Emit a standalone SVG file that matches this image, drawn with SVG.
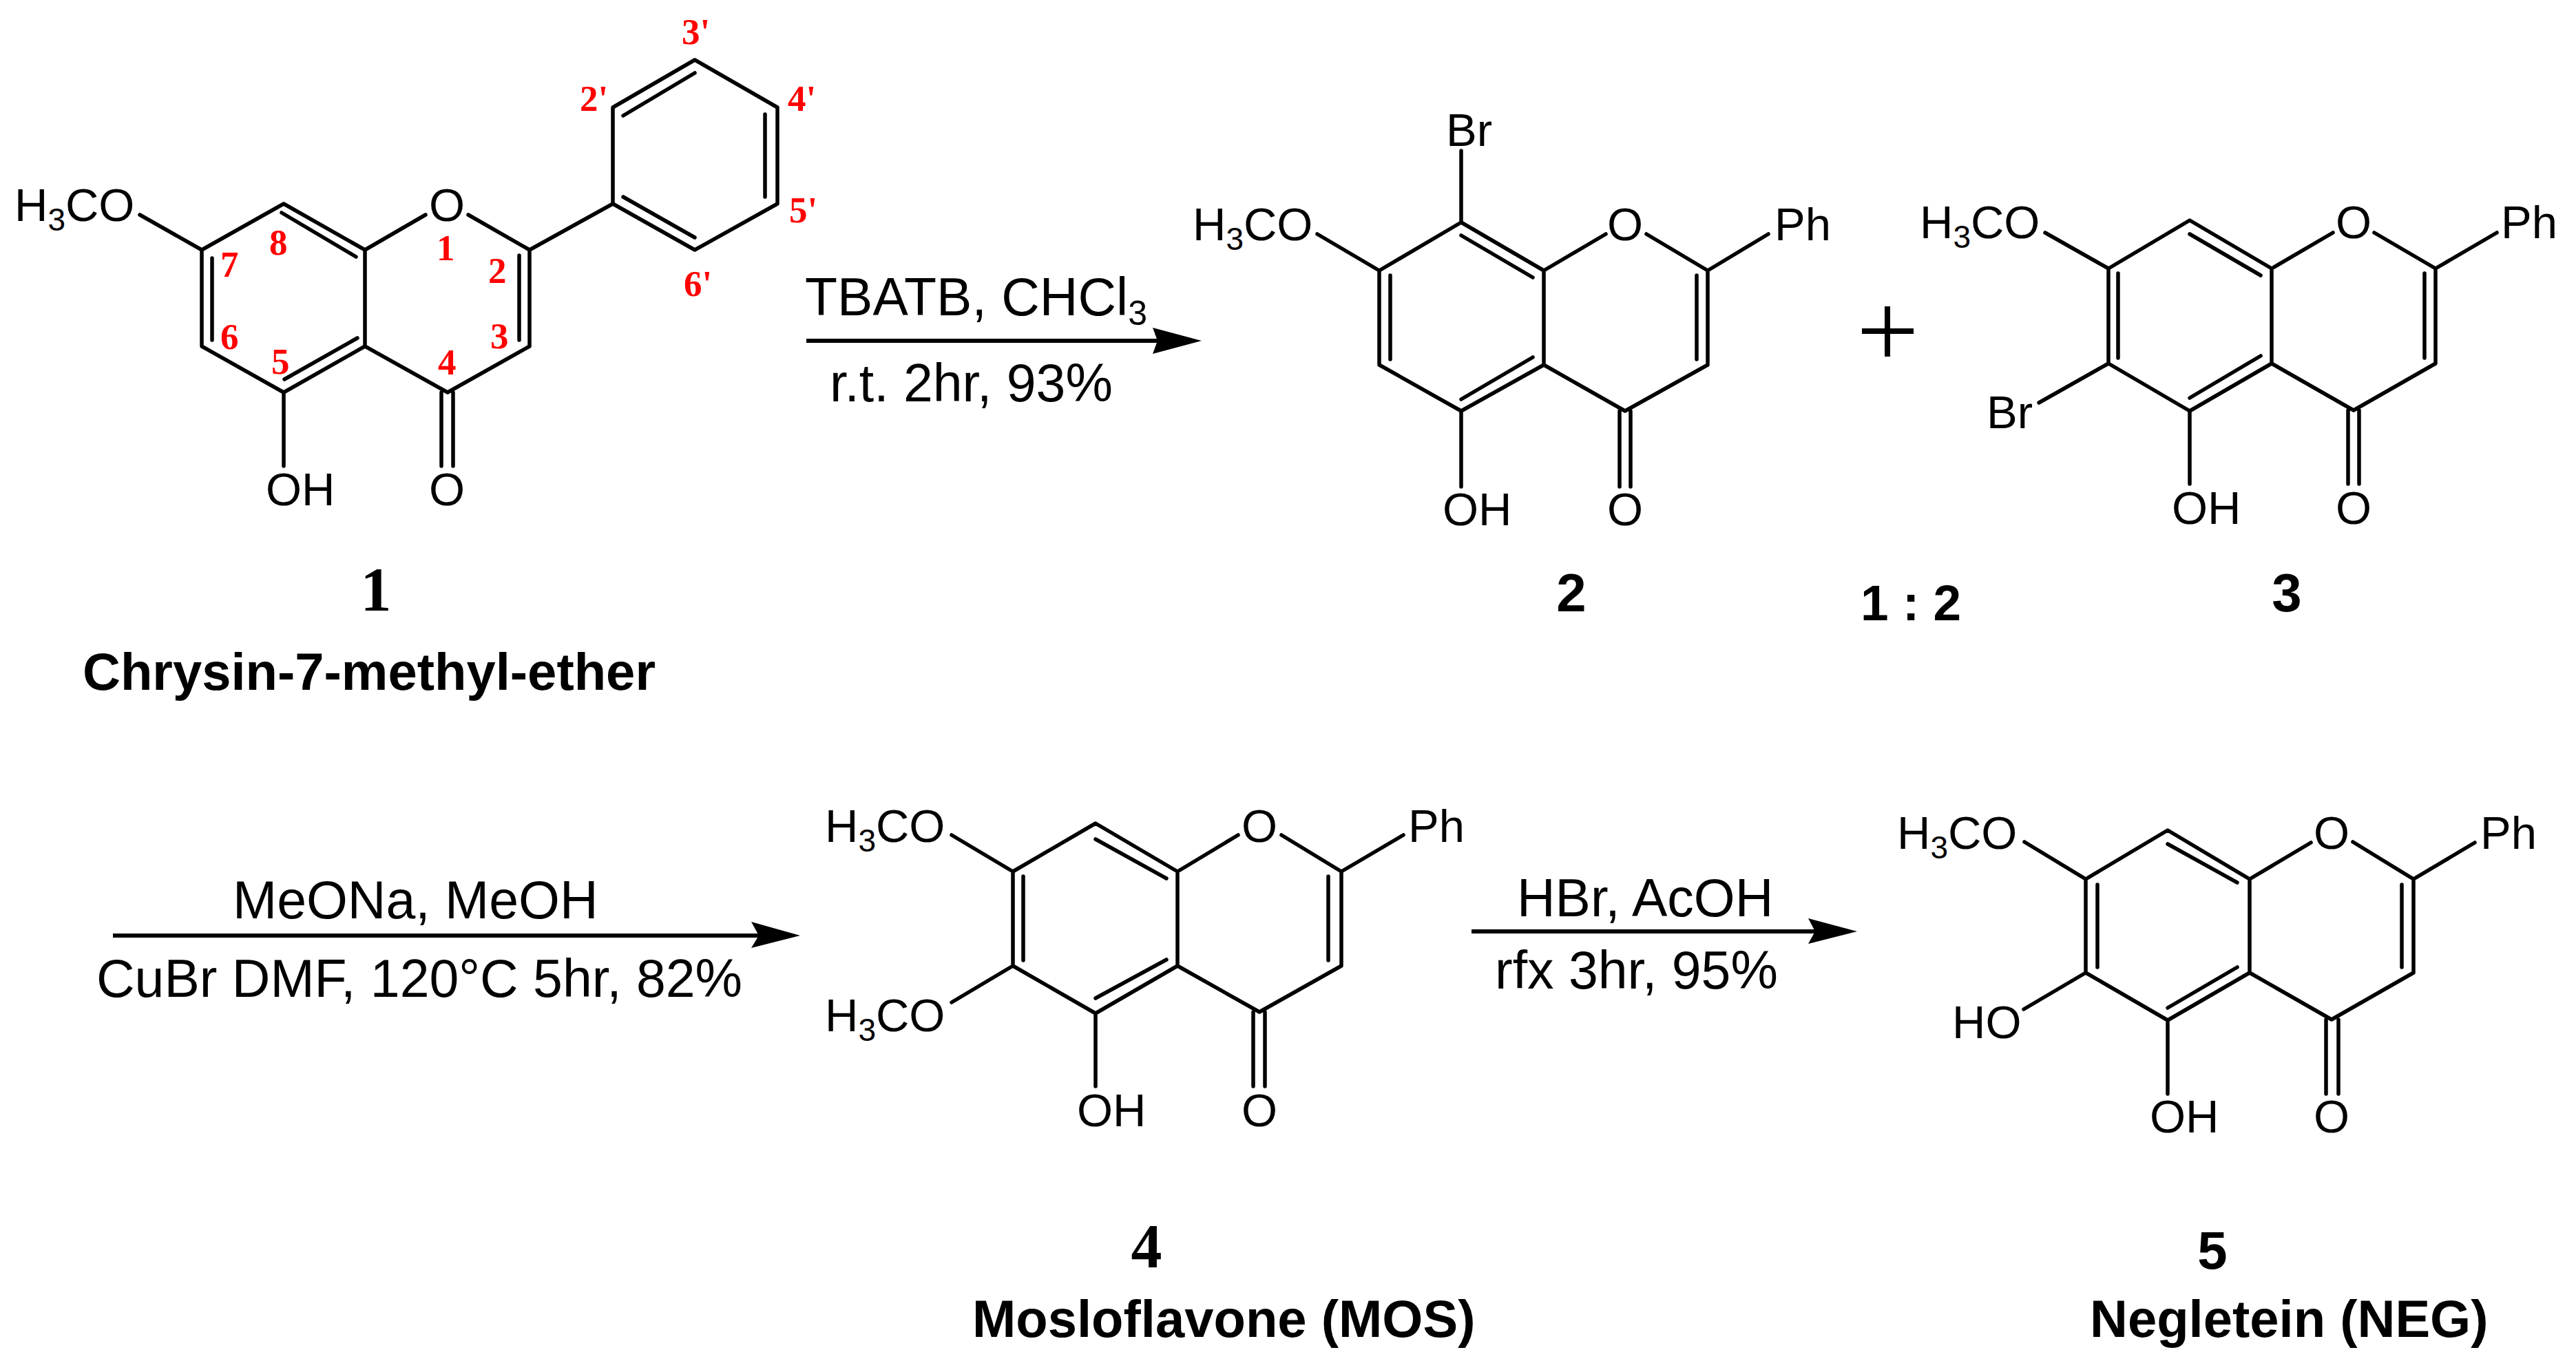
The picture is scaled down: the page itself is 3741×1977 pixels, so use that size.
<svg xmlns="http://www.w3.org/2000/svg" width="3741" height="1977" viewBox="0 0 3741 1977">
<style>
.b{fill:none;stroke:#000;stroke-width:5.5;stroke-linecap:round;stroke-linejoin:round}
.a{fill:none;stroke:#000;stroke-width:6}
text{font-family:"Liberation Sans",Arial,sans-serif;fill:#000}
.t{font-size:67px}
.r{font-size:77px}
.s{font-size:46px}
.n{font-size:53px;font-family:"Liberation Serif","Times New Roman",serif;font-weight:bold;fill:#f00}
.k{font-size:76px;font-weight:bold}
.q{font-size:78px;font-weight:bold}
.d{font-size:90px;font-family:"Liberation Serif","Times New Roman",serif;font-weight:bold}
.h{fill:#000}
</style>
<rect width="3741" height="1977" fill="#fff"/>
<g id="connectors">
<path class="a" d="M1171 495H1685"/><path class="h" d="M1745 495L1674 476L1681 495L1674 514Z"/>
<path class="a" d="M164 1359H1105"/><path class="h" d="M1162 1359L1091 1339L1102 1359L1091 1377Z"/>
<path class="a" d="M2137 1353H2640"/><path class="h" d="M2697 1353L2626 1334L2636 1353L2626 1371Z"/>
</g>
<g id="reagents">
<text class="r" x="1169" y="458">TBATB, CHCl<tspan class="s" style="font-size:50px" dy="14">3</tspan></text>
<text class="r" x="1205" y="583">r.t. 2hr, 93%</text>
<text class="r" x="338" y="1334">MeONa, MeOH</text>
<text class="r" x="140" y="1448">CuBr DMF, 120°C 5hr, 82%</text>
<text class="r" x="2203" y="1331">HBr, AcOH</text>
<text class="r" x="2171" y="1436">rfx 3hr, 95%</text>
<path class="b" style="stroke-width:8;stroke-linecap:butt" d="M2704 481H2779M2741 445V518"/>
<text class="k" style="font-size:73px" x="2702" y="901">1 : 2</text>
</g>
<g id="node-1">
<path class="b" d="M203 312L293 363L412 296L530 363L618 312M680 312L769 363L769 503L650 570L530 503L412 570L293 503L293 363M530 363V503M769 363L890 296V156L1009 87L1129 156V296L1009 363L890 296M412 570V677M641 570V677M658 570V677M308 375V494M409 309L517 373M413 551L519 491M754 371V494M905 168L1009 106M1111 166V286M905 286L1009 345"/>
<text class="t" x="21" y="321">H<tspan class="s" dy="14">3</tspan><tspan dy="-14">CO</tspan></text>
<text class="t" x="649" y="321" text-anchor="middle">O</text>
<text class="t" x="386" y="734">OH</text>
<text class="t" x="649" y="734" text-anchor="middle">O</text>
<text class="n" x="990" y="64">3'</text><text class="n" x="842" y="161">2'</text><text class="n" x="1144" y="161">4'</text><text class="n" x="1146" y="323">5'</text><text class="n" x="993" y="430">6'</text>
<text class="n" x="634" y="378">1</text><text class="n" x="709" y="411">2</text><text class="n" x="712" y="506">3</text><text class="n" x="636" y="544">4</text><text class="n" x="394" y="543">5</text><text class="n" x="320" y="507">6</text><text class="n" x="320" y="402">7</text><text class="n" x="391" y="370">8</text>
<text class="d" x="546" y="887" text-anchor="middle">1</text>
<text class="k" x="120" y="1002">Chrysin-7-methyl-ether</text>
</g>
<g id="node-2">
<path class="b" d="M1913 340L2003 393L2122 323L2242 393L2332 340M2391 340L2480 393V530L2360 597L2242 530L2122 597L2003 530V393M2242 393V530M2480 393L2568 340M2122 323V219M2122 597V707M2352 597V707M2368 597V707M2019 400V522M2122 342L2226 403M2122 580L2226 519M2464 400V522"/>
<text class="t" x="2100" y="212">Br</text>
<text class="t" x="1732" y="349">H<tspan class="s" dy="14">3</tspan><tspan dy="-14">CO</tspan></text>
<text class="t" x="2360" y="349" text-anchor="middle">O</text>
<text class="t" x="2577" y="349">Ph</text>
<text class="t" x="2095" y="763">OH</text>
<text class="t" x="2360" y="763" text-anchor="middle">O</text>
<text class="q" x="2282" y="888" text-anchor="middle">2</text>
</g>
<g id="node-3">
<path class="b" d="M2970 338L3062 390L3180 320L3299 390L3388 338M3448 338L3537 390V528L3418 596L3299 528L3180 597L3062 528V390M3299 390V528M3537 390L3626 338M3062 528L2961 585M3180 597V703M3410 596V703M3426 596V703M3076 397V520M3180 340L3283 400M3180 578L3283 517M3521 397V520"/>
<text class="t" x="2788" y="346">H<tspan class="s" dy="14">3</tspan><tspan dy="-14">CO</tspan></text>
<text class="t" x="3418" y="346" text-anchor="middle">O</text>
<text class="t" x="3632" y="346">Ph</text>
<text class="t" x="2885" y="622">Br</text>
<text class="t" x="3154" y="761">OH</text>
<text class="t" x="3418" y="761" text-anchor="middle">O</text>
<text class="q" x="3321" y="888" text-anchor="middle">3</text>
</g>
<g id="node-4">
<path class="b" d="M1382 1213L1471 1266L1591 1196L1710 1266L1798 1213M1861 1213L1948 1266V1403L1829 1470L1710 1403L1591 1472L1471 1403V1266M1710 1266V1403M1948 1266L2038 1213M1471 1403L1382 1456M1591 1472V1578M1820 1470V1578M1837 1470V1578M1486 1273V1395M1591 1219L1694 1276M1591 1450L1694 1394M1929 1273V1395"/>
<text class="t" x="1198" y="1223">H<tspan class="s" dy="14">3</tspan><tspan dy="-14">CO</tspan></text>
<text class="t" x="1198" y="1498">H<tspan class="s" dy="14">3</tspan><tspan dy="-14">CO</tspan></text>
<text class="t" x="1829" y="1223" text-anchor="middle">O</text>
<text class="t" x="2045" y="1223">Ph</text>
<text class="t" x="1564" y="1636">OH</text>
<text class="t" x="1829" y="1636" text-anchor="middle">O</text>
<text class="d" x="1665" y="1841" text-anchor="middle">4</text>
<text class="k" x="1412" y="1942">Mosloflavone (MOS)</text>
</g>
<g id="node-5">
<path class="b" d="M2940 1223L3029 1277L3148 1206L3267 1277L3356 1224M3417 1223L3505 1277V1413L3386 1481L3267 1413L3148 1482L3029 1413V1277M3267 1277V1413M3505 1277L3594 1224M3029 1413L2939 1466M3148 1482V1589M3378 1481V1589M3396 1481V1589M3046 1285V1405M3148 1226L3249 1282M3148 1464L3249 1405M3488 1285V1405"/>
<text class="t" x="2755" y="1233">H<tspan class="s" dy="14">3</tspan><tspan dy="-14">CO</tspan></text>
<text class="t" x="3386" y="1233" text-anchor="middle">O</text>
<text class="t" x="3602" y="1233">Ph</text>
<text class="t" x="2835" y="1508">HO</text>
<text class="t" x="3122" y="1645">OH</text>
<text class="t" x="3386" y="1645" text-anchor="middle">O</text>
<text class="q" x="3213" y="1843" text-anchor="middle">5</text>
<text class="k" x="3035" y="1942">Negletein (NEG)</text>
</g>
</svg>
